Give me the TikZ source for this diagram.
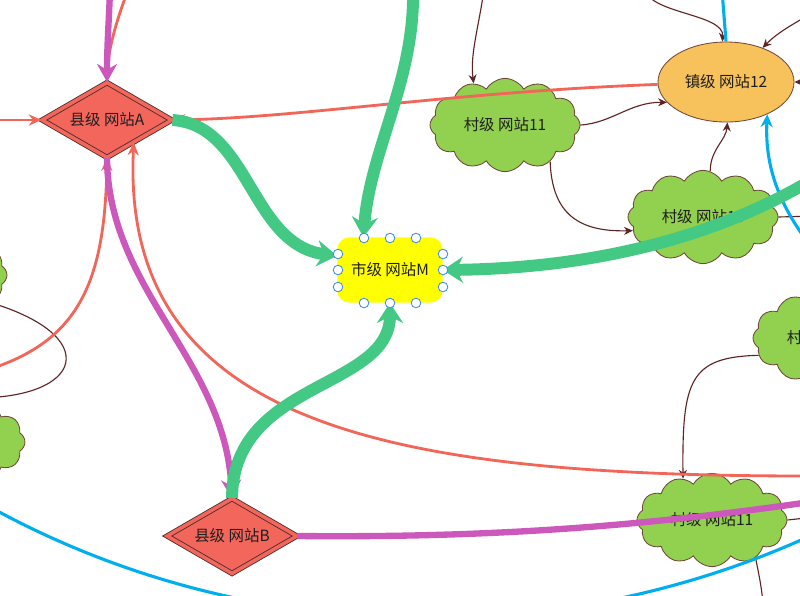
\documentclass[tikz,border=0pt]{standalone}
\usepackage{fontspec}
\usepackage{xcolor}
\newfontfamily\cjk{Noto Sans CJK SC}
\usetikzlibrary{
    shapes.geometric,
    shapes.symbols,
    arrows.meta,
    calc
}
\definecolor{county}{HTML}{F3665C}
\definecolor{village}{HTML}{92D050}
\definecolor{town}{HTML}{F7C15C}
\definecolor{city}{HTML}{FFFF00}
\definecolor{outline}{HTML}{4A2C2A}
\definecolor{puffline}{HTML}{70483A}
\definecolor{ringred}{HTML}{F26659}
\definecolor{feeder}{HTML}{CC58BB}
\definecolor{trunk}{HTML}{44C985}
\definecolor{backbone}{HTML}{00AEEF}
\definecolor{branch}{HTML}{5E2424}
\definecolor{handle}{HTML}{3C8DEB}
\definecolor{ink}{HTML}{1F1F1F}
\newcommand{\stationfont}{\fontsize{11}{13}\selectfont\cjk}
\tikzset{
    % County station, double diamond
    county station/.style={
        diamond,
        aspect=1.7,
        minimum width=3.25cm,
        minimum height=1.88cm,
        inner sep=0pt,
        draw=outline,
        fill=county,
        double=county,
        double distance=2.6pt,
        line width=0.6pt,
        font=\stationfont,
        text=ink
    },
    % City station
    city station/.style={
        rectangle,
        rounded corners=0.3cm,
        minimum width=2.63cm,
        minimum height=1.63cm,
        fill=city,
        font=\stationfont,
        text=ink
    },
    % Town station
    town station/.style={
        ellipse,
        minimum width=3.4cm,
        minimum height=2cm,
        draw=puffline,
        fill=town,
        line width=0.6pt,
        font=\stationfont,
        text=ink
    },
    % Village station
    village station/.style={
        cloud,
        cloud puffs=12,
        cloud puff arc=120,
        aspect=1.7,
        minimum width=3.75cm,
        minimum height=2.25cm,
        draw=puffline,
        fill=village,
        line width=0.6pt,
        font=\stationfont,
        text=ink
    },
    % Selection handle
    handle/.style={
        circle,
        minimum size=0.24cm,
        inner sep=0pt,
        draw=handle,
        fill=white,
        line width=0.6pt
    },
    % Arrow styles
    trunk/.style={
        -{Stealth[length=5mm, width=6.5mm]},
        line width=8.5pt,
        color=trunk
    },
    feeder/.style={
        -{Stealth[length=4.5mm, width=5mm]},
        line width=4.5pt,
        color=feeder
    },
    ring/.style={
        -{Stealth[length=3.2mm, width=2.8mm]},
        line width=2pt,
        color=ringred
    },
    branch/.style={
        -{Stealth[length=2.2mm, width=2mm]},
        line width=0.8pt,
        color=branch
    },
    backbone/.style={
        line width=2.2pt,
        color=backbone
    }
}

\begin{document}
\begin{tikzpicture}[x=0.025cm, y=-0.025cm]

        \useasboundingbox (0,0) rectangle (800,595);
        \clip (0,0) rectangle (800,595);

        % Stations
        \node[county station] (A) at (107,120) {县级 网站A};
        \node[county station] (B) at (232,536) {县级 网站B};
        \node[city station] (M) at (390,270) {市级 网站M};
        \node[town station] (T12) at (726,82) {镇级 网站12};
        \node[village station] (V11) at (505,125) {村级 网站11};
        \node[village station] (V13) at (703,217) {村级 网站13};
        \node[village station, minimum height=2cm] (V14) at (828,338) {村级 网站14};
        \node[village station] (V15) at (712,520) {村级 网站11};
        \node[village station] (L1) at (-68,275) {};
        \node[village station] (L2) at (-50,442) {};

        % Free ends
        \coordinate (topA) at (110,-10);
        \coordinate (topR) at (128,-10);
        \coordinate (leftR) at (-10,120);
        \coordinate (leftLow) at (-10,369);
        \coordinate (rightLow) at (810,476);
        \coordinate (topG) at (413,-10);
        \coordinate (rightG) at (815,178);
        \coordinate (rightP) at (810,502);
        \coordinate (blueW) at (-10,507);
        \coordinate (blueE) at (810,536);
        \coordinate (topBlue) at (722,-10);
        \coordinate (rightBlue) at (810,245);
        \coordinate (topV) at (484,-10);
        \coordinate (topT) at (645,-10);
        \coordinate (cornerT) at (815,12);
        \coordinate (sideT) at (830,82);
        \coordinate (sideV13) at (815,216);
        \coordinate (sideV15) at (815,517);
        \coordinate (bottomV15) at (763,605);
        \coordinate (loopEnd) at (-30,398);

        % Village links
        \draw[branch] (topV) .. controls (478,30) and (470,55) .. (V11.127);
        \draw[branch] (topT) .. controls (652,14) and (724,14) .. (T12.95);
        \draw[branch] (cornerT) .. controls (790,25) and (775,35) .. (T12.43);
        \draw[branch] (V11.east) .. controls (612,123) and (630,102) .. (T12.199);
        \draw[branch] (V13.81) .. controls (710,150) and (726,140) .. (T12.272);
        \draw[branch] (V11.-39) .. controls (552,215) and (580,232) .. (V13.191);
        \draw[branch] (sideT) -- (T12.east);
        \draw[branch, -] (V13.east) -- (sideV13);
        \draw[branch] (V14.194) .. controls (690,357) and (682,380) .. (V15.125);
        \draw[branch, -] (V15.-41) .. controls (760,580) and (762,590) .. (bottomV15);
        \draw[branch, -] (V15.east) -- (sideV15);
        \draw[branch, -] (L1.-26) .. controls (105,335) and (85,400) .. (loopEnd);

        % Ring links
        \draw[ring] (topR) .. controls (115,25) and (108,50) .. (A.north);
        \draw[ring] (leftR) -- (A.west);
        \draw[ring] (T12.182) .. controls (450,92) and (300,118) .. (A.east);
        \draw[ring] (leftLow) .. controls (80,340) and (105,280) .. (A.south);
        \draw[ring] (rightLow) .. controls (400,476) and (120,430) .. (A.-40);

        % Backbone links
        \draw[backbone] (blueW) .. controls (250,650) and (560,650) .. (blueE);
        \draw[backbone] (topBlue) -- (T12.north);
        \draw[backbone, -{Stealth[length=3.2mm, width=3mm]}] (rightBlue) .. controls (775,200) and (765,160) .. (T12.-38);

        % Feeder links
        \draw[feeder] (topA) .. controls (109,20) and (107,45) .. (A.north);
        \draw[feeder] (A.south) .. controls (108,290) and (225,360) .. (B.north);
        \draw[feeder, -] (B.east) .. controls (500,538) and (650,525) .. (rightP);

        % Trunk links
        \draw[trunk] (A.east) .. controls (250,125) and (250,245) .. (M.165);
        \draw[trunk] (topG) .. controls (415,80) and (370,150) .. (M.129);
        \draw[trunk] (rightG) .. controls (720,235) and (600,268) .. (M.east);
        \draw[trunk] (B.north) .. controls (233,380) and (390,390) .. (M.south);

        % Handles
        \node[handle] (h1) at (364,238) {};
        \node[handle] (h2) at (390,238) {};
        \node[handle] (h3) at (416,238) {};
        \node[handle] (h4) at (364,303) {};
        \node[handle] (h5) at (390,303) {};
        \node[handle] (h6) at (416,303) {};
        \node[handle] (h7) at (338,254) {};
        \node[handle] (h8) at (338,270) {};
        \node[handle] (h9) at (338,287) {};
        \node[handle] (h10) at (443,254) {};
        \node[handle] (h11) at (443,270) {};
        \node[handle] (h12) at (443,287) {};

\end{tikzpicture}
\end{document}
